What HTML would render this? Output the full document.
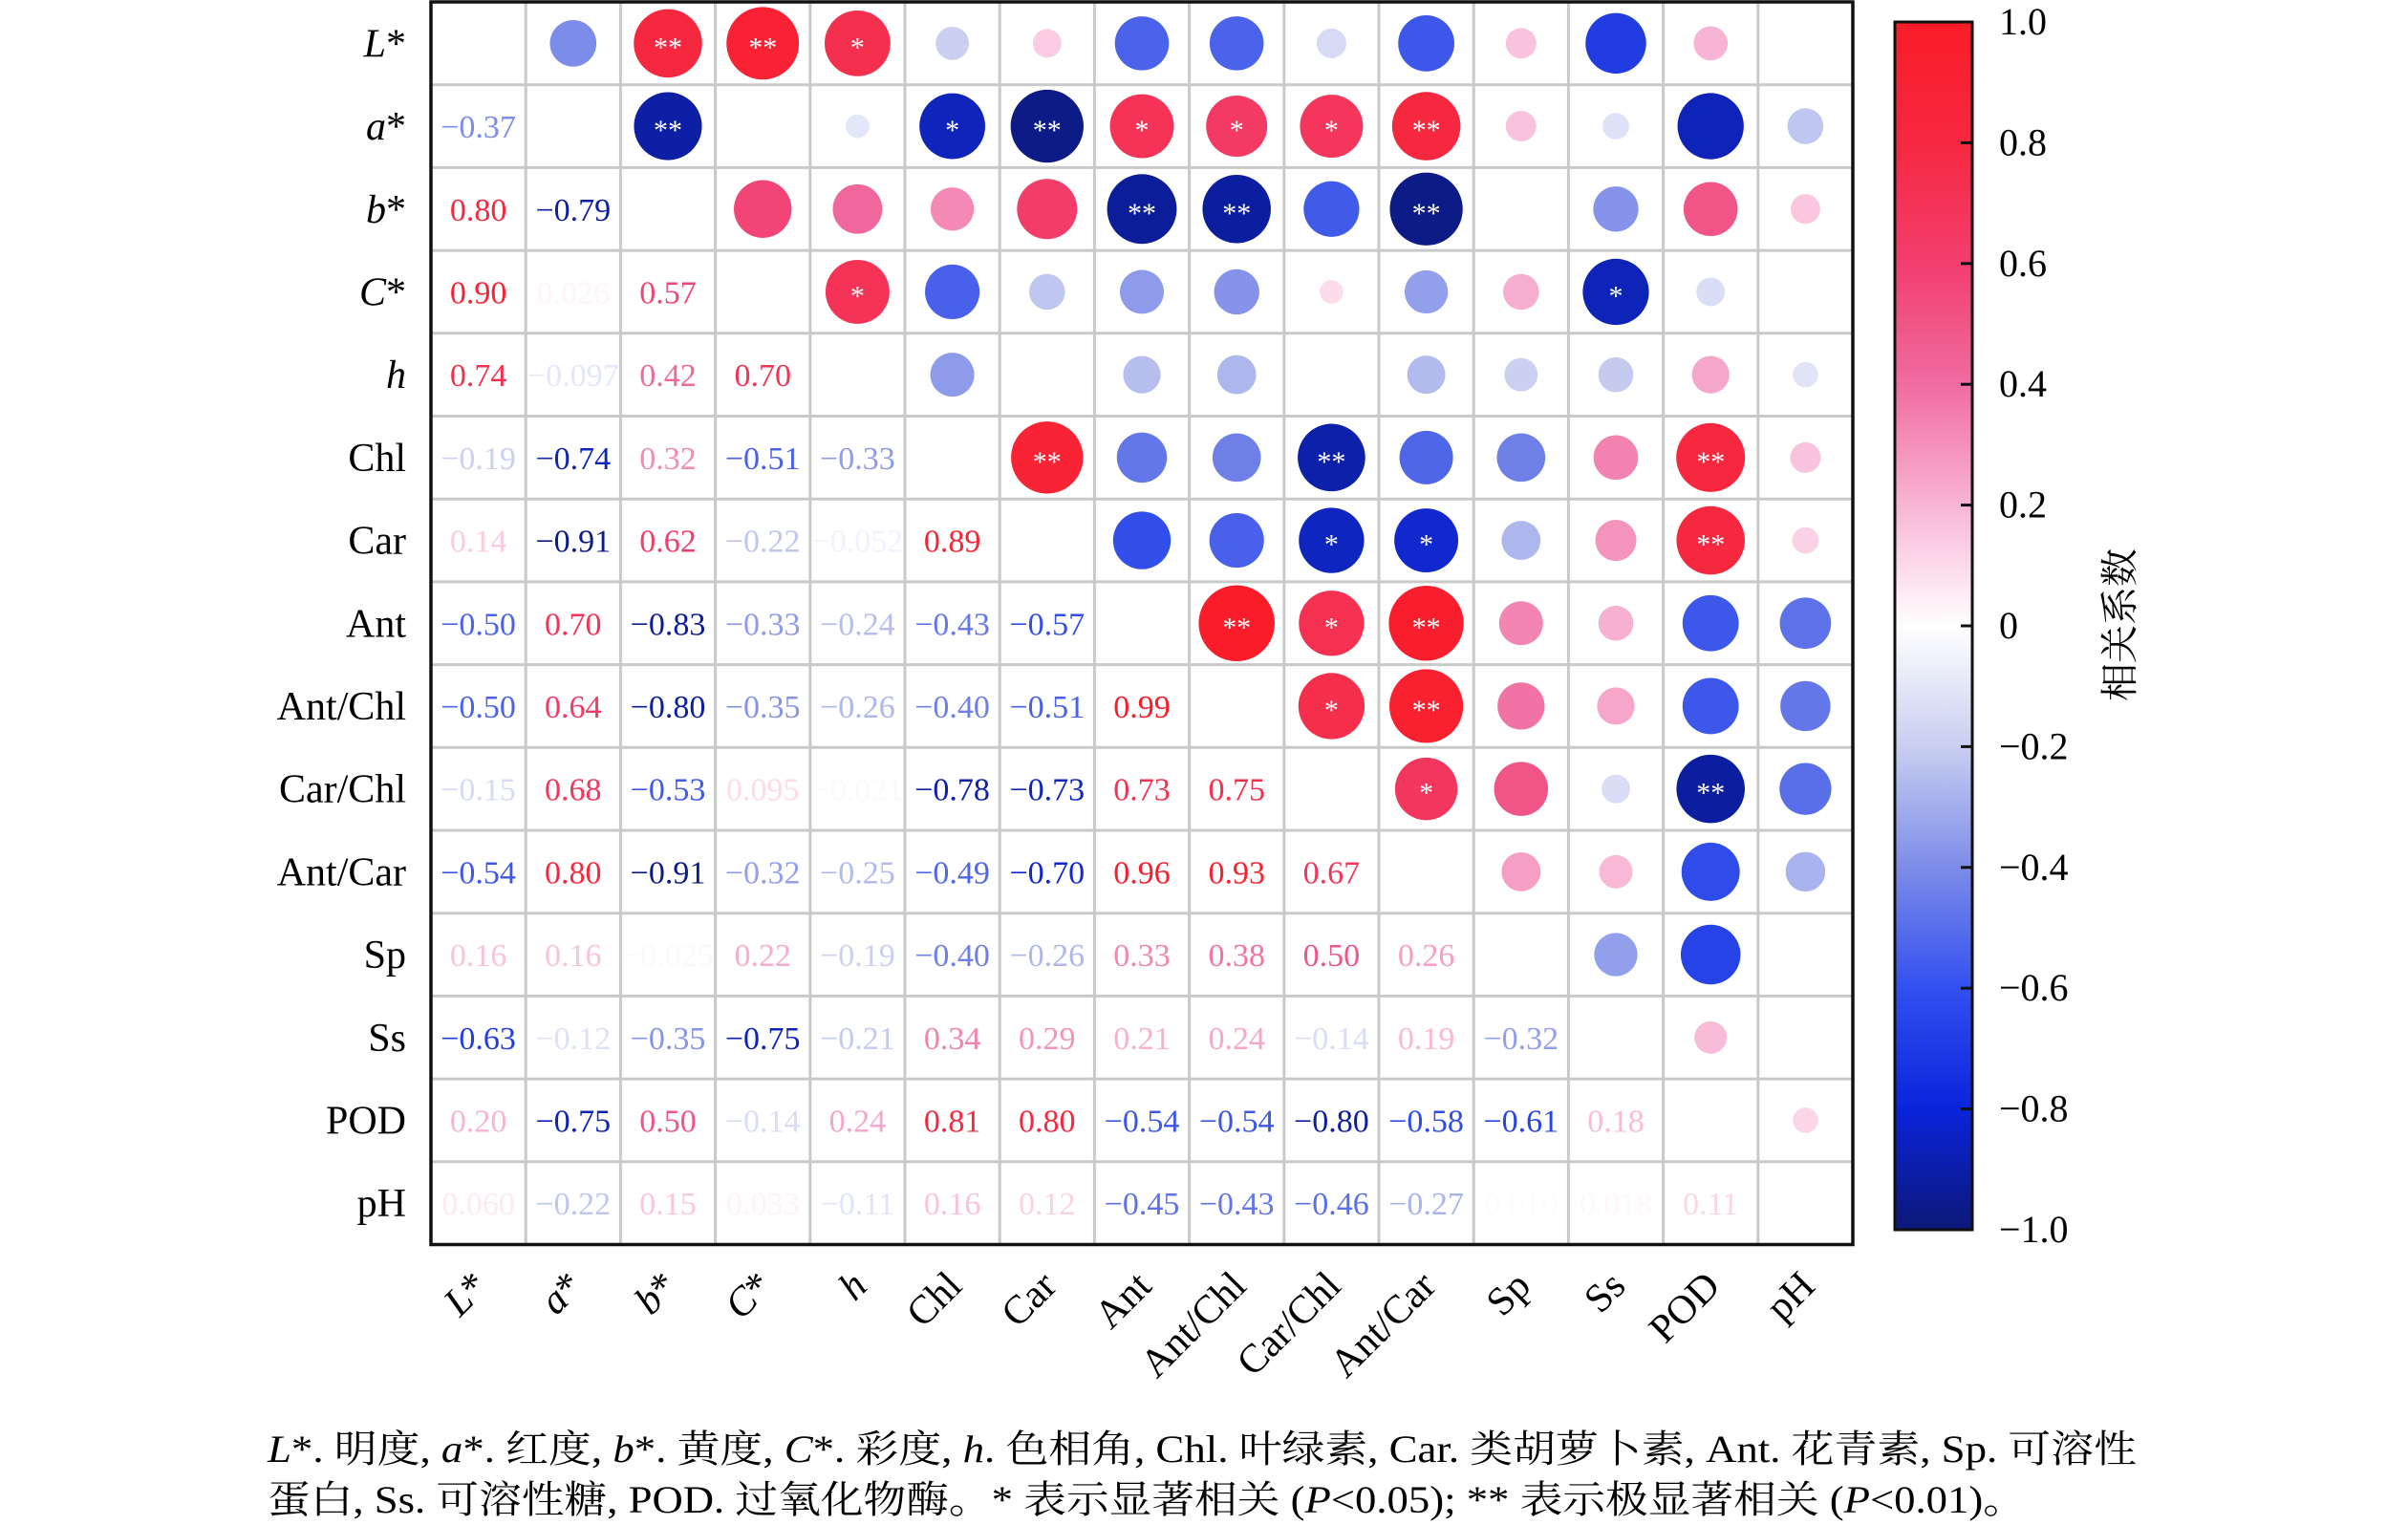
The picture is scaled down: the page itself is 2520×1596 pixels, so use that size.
<!DOCTYPE html>
<html><head><meta charset="utf-8"><style>
html,body{margin:0;padding:0;background:#fff;}
svg{display:block;font-family:"Liberation Serif","Noto Serif CJK SC",serif;}
</style></head><body>
<svg id="s" width="2520" height="1596" xmlns="http://www.w3.org/2000/svg"></svg>
<script>
const N=15,X0=451,Y0=2,CW=99.2,CH=86.7;
const names=[["L","*",1],["a","*",1],["b","*",1],["C","*",1],["h","",1],["Chl","",0],["Car","",0],["Ant","",0],["Ant/Chl","",0],["Car/Chl","",0],["Ant/Car","",0],["Sp","",0],["Ss","",0],["POD","",0],["pH","",0]];
const low=[[],
[-0.37],
[0.80,-0.79],
[0.90,0.026,0.57],
[0.74,-0.097,0.42,0.70],
[-0.19,-0.74,0.32,-0.51,-0.33],
[0.14,-0.91,0.62,-0.22,-0.052,0.89],
[-0.50,0.70,-0.83,-0.33,-0.24,-0.43,-0.57],
[-0.50,0.64,-0.80,-0.35,-0.26,-0.40,-0.51,0.99],
[-0.15,0.68,-0.53,0.095,-0.021,-0.78,-0.73,0.73,0.75],
[-0.54,0.80,-0.91,-0.32,-0.25,-0.49,-0.70,0.96,0.93,0.67],
[0.16,0.16,-0.025,0.22,-0.19,-0.40,-0.26,0.33,0.38,0.50,0.26],
[-0.63,-0.12,-0.35,-0.75,-0.21,0.34,0.29,0.21,0.24,-0.14,0.19,-0.32],
[0.20,-0.75,0.50,-0.14,0.24,0.81,0.80,-0.54,-0.54,-0.80,-0.58,-0.61,0.18],
[0.060,-0.22,0.15,0.033,-0.11,0.16,0.12,-0.45,-0.43,-0.46,-0.27,0.010,0.018,0.11]];
const txt={"0.06":"0.060","0.026":"0.026","-0.097":"−0.097","-0.052":"−0.052","-0.021":"−0.021","0.095":"0.095","-0.025":"−0.025","0.033":"0.033","0.01":"0.010","0.018":"0.018"};
const stars={"0,2":"**","0,3":"**","0,4":"*","1,2":"**","1,5":"*","1,6":"**","1,7":"*","1,8":"*","1,9":"*","1,10":"**","2,7":"**","2,8":"**","2,10":"**","3,4":"*","3,12":"*","5,6":"**","5,9":"**","5,13":"**","6,9":"*","6,10":"*","6,13":"**","7,8":"**","7,9":"*","7,10":"**","8,9":"*","8,10":"**","9,10":"*","9,13":"**"};
const stops=[[-1,[12,24,110]],[-0.8,[12,30,160]],[-0.7,[16,40,205]],[-0.6,[40,70,235]],[-0.4,[110,128,232]],[-0.2,[200,206,240]],[0,[255,255,255]],[0.2,[248,180,212]],[0.4,[240,108,160]],[0.6,[242,62,110]],[0.8,[246,40,64]],[1,[250,28,40]]];
const cstops=[[-1,[12,24,120]],[-0.8,[10,36,220]],[-0.6,[50,80,240]],[-0.4,[125,140,232]],[-0.2,[200,206,240]],[0,[255,255,255]],[0.2,[248,180,212]],[0.4,[240,108,160]],[0.6,[242,62,110]],[0.8,[246,40,64]],[1,[250,28,40]]];
function colS(v,st){v=Math.max(-1,Math.min(1,v));for(let i=0;i<st.length-1;i++){const a=st[i],b=st[i+1];if(v<=b[0]){const t=(v-a[0])/(b[0]-a[0]);const c=a[1].map((x,k)=>Math.round(x+(b[1][k]-x)*t));return `rgb(${c})`;}}return "rgb(250,28,40)";}
const col=v=>colS(v,stops);
let h="";
for(let i=1;i<N;i++){h+=`<line x1="${X0+i*CW}" y1="${Y0}" x2="${X0+i*CW}" y2="${Y0+N*CH}" stroke="#c8cac8" stroke-width="3"/>`;h+=`<line x1="${X0}" y1="${Y0+i*CH}" x2="${X0+N*CW}" y2="${Y0+i*CH}" stroke="#c8cac8" stroke-width="3"/>`;}
for(let i=0;i<N;i++)for(let j=0;j<i;j++){
 const v=low[i][j];const cx=X0+(j+.5)*CW,cy=Y0+(i+.5)*CH;
 let s=txt[String(v)]||((v<0?"−":"")+Math.abs(v).toFixed(2));
 h+=`<text x="${cx}" y="${cy+12}" font-size="34" text-anchor="middle" fill="${col(v)}">${s}</text>`;
 const ux=X0+(i+.5)*CW,uy=Y0+(j+.5)*CH,r=40*Math.sqrt(Math.abs(v));
 if(Math.abs(v)>0.09)h+=`<circle cx="${ux}" cy="${uy}" r="${r}" fill="${col(v)}"/>`;
 const st=stars[j+","+i];if(st)h+=`<text x="${ux}" y="${uy+14}" font-size="30" text-anchor="middle" fill="#fff">${st}</text>`;
}
h+=`<rect x="${X0}" y="${Y0}" width="${N*CW}" height="${N*CH}" fill="none" stroke="#111" stroke-width="3.5"/>`;
for(let i=0;i<N;i++){const n=names[i];const lab=n[2]?`<tspan font-style="italic">${n[0]}</tspan>${n[1]}`:n[0];
 h+=`<text x="425" y="${Y0+(i+.5)*CH+14}" font-size="42" text-anchor="end">${lab}</text>`;
 const cx=X0+(i+.5)*CW;
 h+=`<text transform="translate(${cx+12},${1348}) rotate(-45)" font-size="42" text-anchor="end">${lab}</text>`;}
const CX=1983,CT=23,CB=1287,CWB=81;
h+=`<defs><linearGradient id="g" x1="0" y1="1" x2="0" y2="0">`;
cstops.forEach(s=>{h+=`<stop offset="${(s[0]+1)/2}" stop-color="${colS(s[0],cstops)}"/>`;});
h+=`</linearGradient></defs><rect x="${CX}" y="${CT}" width="${CWB}" height="${CB-CT}" fill="url(#g)" stroke="#111" stroke-width="3"/>`;
for(let k=0;k<=10;k++){const v=1-k*0.2;const y=CT+(CB-CT)*k/10;
 if(k>0&&k<10)h+=`<line x1="${CX+CWB-12}" y1="${y}" x2="${CX+CWB}" y2="${y}" stroke="#111" stroke-width="3"/>`;
 let s=Math.abs(v)<1e-9?"0":(v<0?"−":"")+Math.abs(v).toFixed(1);
 h+=`<text x="2092" y="${y+13}" font-size="40">${s}</text>`;}
h+=`<text transform="translate(2232,654) rotate(-90)" font-size="40" text-anchor="middle" font-family="Noto Serif CJK SC,serif">相关系数</text>`;
h+=`<text x="280" y="1530" font-size="40" textLength="1956" lengthAdjust="spacingAndGlyphs"><tspan font-style="italic">L</tspan>*. 明度, <tspan font-style="italic">a</tspan>*. 红度, <tspan font-style="italic">b</tspan>*. 黄度, <tspan font-style="italic">C</tspan>*. 彩度, <tspan font-style="italic">h</tspan>. 色相角, Chl. 叶绿素, Car. 类胡萝卜素, Ant. 花青素, Sp. 可溶性</text>`;
h+=`<text x="280" y="1583" font-size="40" textLength="1840" lengthAdjust="spacingAndGlyphs">蛋白, Ss. 可溶性糖, POD. 过氧化物酶。* 表示显著相关 (<tspan font-style="italic">P</tspan>&lt;0.05); ** 表示极显著相关 (<tspan font-style="italic">P</tspan>&lt;0.01)。</text>`;
document.getElementById("s").innerHTML=h;
</script>
</body></html>
